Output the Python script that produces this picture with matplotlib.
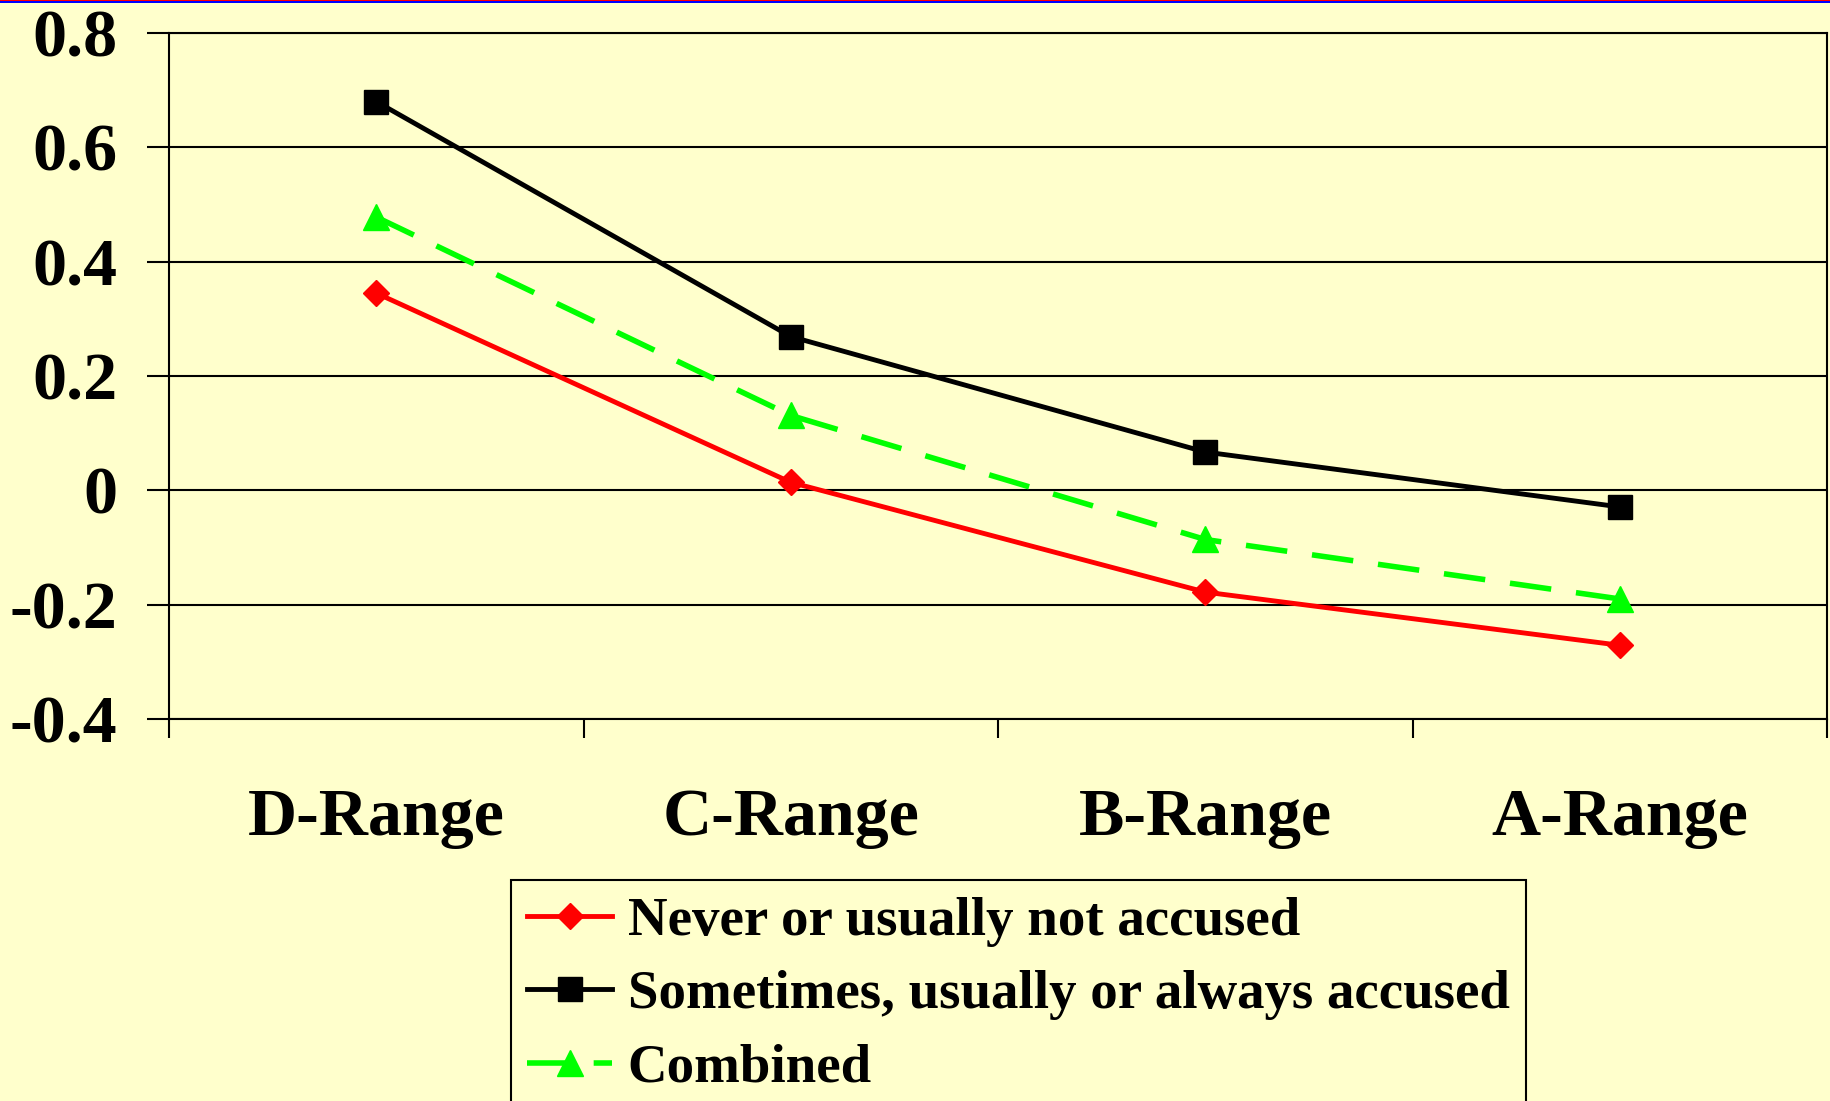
import matplotlib
matplotlib.use("Agg")
import matplotlib.pyplot as plt
from matplotlib.patches import Rectangle

categories = ["D-Range", "C-Range", "B-Range", "A-Range"]
never_accused = [0.345, 0.014, -0.178, -0.271]
sometimes_accused = [0.680, 0.269, 0.067, -0.029]
combined = [0.478, 0.131, -0.086, -0.190]
yticks = [-0.4, -0.2, 0.0, 0.2, 0.4, 0.6, 0.8]
ytick_labels = ["-0.4", "-0.2", "0", "0.2", "0.4", "0.6", "0.8"]
series_labels = ["Never or usually not accused",
                 "Sometimes, usually or always accused",
                 "Combined"]

BG = "#FFFFCC"
W, H = 1831, 1101
plt.rcParams['font.family'] = ['Liberation Serif', 'DejaVu Serif']
plt.rcParams['font.weight'] = 'bold'

fig = plt.figure(figsize=(W / 100, H / 100), dpi=100, facecolor=BG)
ax = fig.add_axes([169 / W, 1 - 719 / H, (1827 - 169) / W, (719 - 33) / H])
ax.set_facecolor(BG)

x = [i + 0.5 for i in range(len(categories))]
l1, = ax.plot(x, never_accused, color="#FF0000", lw=3.5, marker="D", ms=13,
              label=series_labels[0], zorder=3)
l2, = ax.plot(x, sometimes_accused, color="black", lw=3.5, marker="s", ms=17,
              label=series_labels[1], zorder=3)
l3, = ax.plot(x, combined, color="#00FF00", lw=4, marker="^", ms=19,
              dashes=(7.5, 4.5), label=series_labels[2], zorder=3)

ax.set_xlim(0, 4)
ax.set_ylim(-0.4, 0.8)
ax.set_yticks(yticks)
ax.set_yticklabels(ytick_labels)
ax.yaxis.grid(True, color="black", lw=1.5)
ax.set_axisbelow(True)
ax.tick_params(axis='y', direction='out', length=16, width=1.5, pad=21,
               labelsize=49, colors='black')
ax.set_xticks([0, 1, 2, 3, 4])
ax.set_xticklabels([])
ax.set_xticks(x, minor=True)
ax.set_xticklabels(categories, minor=True)
ax.tick_params(axis='x', which='major', direction='out', length=14, width=1.5)
ax.tick_params(axis='x', which='minor', length=0, pad=50, labelsize=49)
for s in ax.spines.values():
    s.set_color("black")
    s.set_linewidth(1.5)

leg = fig.legend(handles=[l1, l2, l3], loc='upper left',
                 bbox_to_anchor=(511 / W, 1 - 880 / H), borderaxespad=0,
                 fontsize=39.5, handlelength=1.55, handletextpad=0.28,
                 borderpad=0.3, labelspacing=0.42, fancybox=False,
                 facecolor=BG, edgecolor='black', framealpha=1)
leg.get_frame().set_linewidth(1.5)

# top stripe
fig.patches.append(Rectangle((0, 1 - 3.3 / H), 1, 3.3 / H, transform=fig.transFigure,
                             facecolor="#FF0000", edgecolor='none'))
fig.patches.append(Rectangle((0, 1 - 2.7 / H), 1, 1.9 / H, transform=fig.transFigure,
                             facecolor="#0000FF", edgecolor='none'))

fig.savefig("out.png", dpi=100, facecolor=BG)
